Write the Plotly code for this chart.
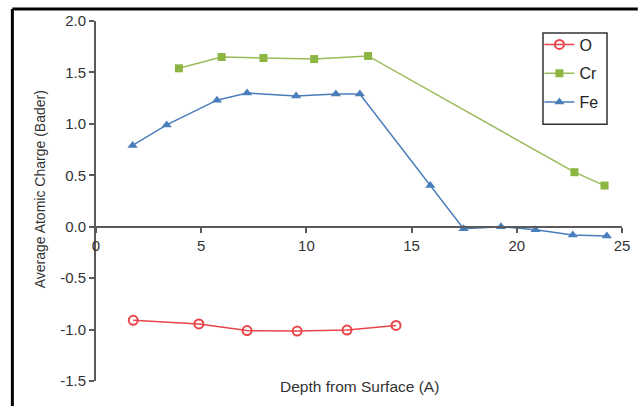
import plotly.graph_objects as go

o_x = [1.77, 4.89, 7.18, 9.56, 11.93, 14.26]
o_y = [-0.91, -0.945, -1.01, -1.015, -1.005, -0.96]

cr_x = [3.94, 5.97, 7.96, 10.37, 12.93, 22.74, 24.17]
cr_y = [1.54, 1.65, 1.64, 1.63, 1.66, 0.53, 0.40]

fe_x = [1.74, 3.36, 5.75, 7.18, 9.51, 11.40, 12.54, 15.89, 17.47, 19.25, 20.89, 22.66, 24.28]
fe_y = [0.79, 0.99, 1.23, 1.30, 1.27, 1.29, 1.29, 0.40, -0.02, 0.0, -0.03, -0.08, -0.09]

x_ticks = [0, 5, 10, 15, 20, 25]
y_ticks = [-1.5, -1.0, -0.5, 0.0, 0.5, 1.0, 1.5, 2.0]

RED = "#E8454A"
GREEN = "#9BBB59"
BLUE = "#4A7EBB"
AX = "#5A5A5A"
FONT = "Liberation Sans, Arial, sans-serif"

fig = go.Figure()
fig.add_trace(go.Scatter(
    x=o_x, y=o_y, name="O", mode="lines+markers", legendgroup="O",
    line=dict(color=RED, width=1.5),
    marker=dict(symbol="circle-open", size=9, color=RED, line=dict(width=2, color=RED)),
))
fig.add_trace(go.Scatter(
    x=cr_x, y=cr_y, name="Cr", mode="lines+markers", legendgroup="Cr",
    line=dict(color=GREEN, width=1.5),
    marker=dict(symbol="square", size=8, color="#8DB542"),
))
fig.add_trace(go.Scatter(
    x=fe_x, y=fe_y, name="Fe", mode="lines+markers", legendgroup="Fe",
    line=dict(color=BLUE, width=1.5),
    marker=dict(symbol="triangle-up", size=9, color=BLUE),
))

y0 = -1.5
y1 = 2.0
fig.update_layout(
    width=642, height=406,
    margin=dict(l=96, r=20, t=15, b=25),
    paper_bgcolor="white", plot_bgcolor="white",
    font=dict(family=FONT, size=15, color="#333333"),
    showlegend=True,
    legend=dict(
        x=0.843, y=0.982, xanchor="left", yanchor="top",
        borderwidth=0, bgcolor="rgba(0,0,0,0)",
        font=dict(size=16, color="#222222"),
        tracegroupgap=5, itemwidth=30,
    ),
    xaxis=dict(
        range=[0, 25], tickvals=x_ticks, ticktext=[str(v) for v in x_ticks],
        showgrid=False, zeroline=False, showline=True, linecolor=AX, linewidth=2,
        ticks="outside", ticklen=5, tickwidth=1.5, tickcolor=AX,
        anchor="free", position=(0 - y0) / (y1 - y0),
        tickfont=dict(size=15, color="#333333"),
    ),
    yaxis=dict(
        range=[y0, y1], tickvals=y_ticks, ticktext=[f"{v:.1f}" for v in y_ticks],
        showgrid=False, zeroline=False, showline=True, linecolor=AX, linewidth=2,
        ticks="outside", ticklen=5, tickwidth=1.5, tickcolor=AX,
        tickfont=dict(size=15, color="#333333"),
    ),
    annotations=[
        dict(text="Depth from Surface (A)", xref="paper", yref="paper",
             x=0.50, y=-0.014, xanchor="center", yanchor="middle",
             showarrow=False, font=dict(size=15.5, color="#333333")),
        dict(text="Average Atomic Charge (Bader)", xref="paper", yref="paper",
             x=-0.106, y=0.533, xanchor="center", yanchor="middle", textangle=-90,
             showarrow=False, font=dict(size=14, color="#333333")),
    ],
    shapes=[
        dict(type="line", xref="paper", yref="paper",
             x0=-0.159, x1=-0.159, y0=1.033, y1=-0.07,
             line=dict(color="black", width=3)),
        dict(type="line", xref="paper", yref="paper",
             x0=-0.159, x1=1.03, y0=1.033, y1=1.033,
             line=dict(color="black", width=3)),
        dict(type="rect", xref="paper", yref="paper",
             x0=0.8498, x1=0.9715, y0=0.967, y1=0.713,
             line=dict(color="#333333", width=1.5), fillcolor="rgba(0,0,0,0)"),
    ],
)

fig.write_html("out.html")
